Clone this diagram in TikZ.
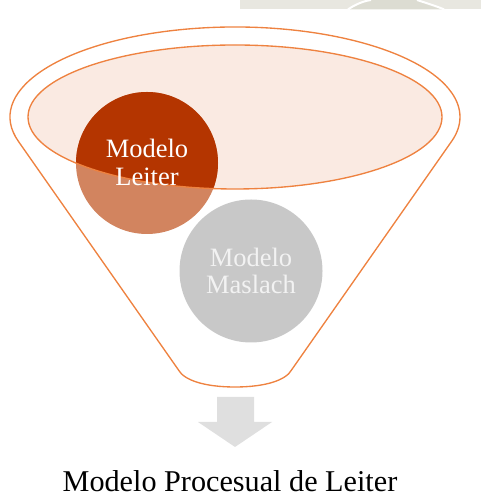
\documentclass[tikz,border=0pt]{standalone}
\usepackage{fontspec}
\setmainfont{Liberation Serif}
\definecolor{funnelline}{HTML}{EE8240}
\definecolor{ellfill}{HTML}{FAEAE2}
\definecolor{leiterdark}{HTML}{B43500}
\definecolor{leiterlight}{HTML}{D2845F}
\definecolor{maslach}{HTML}{C8C8C8}
\definecolor{arrowgrey}{HTML}{DFDFDF}
\definecolor{stripgrey}{HTML}{E8E7E0}
\definecolor{stripdark}{HTML}{DCDCD2}
\tikzset{
  funnelstroke/.style={draw=funnelline, line width=1.35pt},
  circletext/.style={text=white, align=center, font=\fontsize{26.5}{27.8}\selectfont, inner sep=0pt},
  captiontext/.style={text=black, font=\fontsize{30.2}{32}\selectfont, inner sep=0pt, anchor=base},
}
\begin{document}
\begin{tikzpicture}[x=1pt,y=1pt]
\useasboundingbox (0,0) rectangle (481,494);
% faint strip at the top
\fill[stripgrey] (240,484.6) rectangle (481,494);
\fill[stripdark] (350,484.6) .. controls (358,490) and (365,493) .. (372,494) -- (416,494) .. controls (425,491) and (435,488) .. (443,484.6) -- cycle;
\draw[white, line width=2pt] (348,484.6) .. controls (356,490) and (364,493) .. (371,494);
\draw[white, line width=2pt] (417,494) .. controls (426,491) and (436,488) .. (444,484.6);
% outer funnel outline
\draw[funnelstroke, line join=round]
  (18.3,352.8) arc[start angle=195.6, end angle=-15.6, x radius=225pt, y radius=90pt]
  -- (291.5,124) .. controls (286,114) and (266,107) .. (235,107)
  .. controls (204,107) and (184,114) .. (178.5,124) -- cycle;
% inner ellipse fill
\fill[ellfill] (235,377) ellipse[x radius=207pt, y radius=72pt];
% Leiter circle, lighter outside the ellipse
\coordinate (lc) at (147,331);
\fill[leiterlight] (lc) circle[radius=71pt];
\begin{scope}
  \clip (235,377) ellipse[x radius=207pt, y radius=72pt];
  \fill[leiterdark] (lc) circle[radius=71pt];
\end{scope}
% inner ellipse outline
\draw[funnelstroke] (235,377) ellipse[x radius=207pt, y radius=72pt];
% Maslach circle
\coordinate (mc) at (251,223);
\fill[maslach] (mc) circle[radius=71.5pt];
% texts in circles
\node[circletext] (leiter) at (147,331.5) {Modelo\\Leiter};
\node[circletext, text=white!95!black] (maslachtxt) at (251,223) {Modelo\\Maslach};
% down arrow
\fill[arrowgrey] (217,97) -- (254,97) -- (254,72) -- (272,72) -- (235,47) -- (198,72) -- (217,72) -- cycle;
% caption
\node[captiontext] (caption) at (230,2.6) {Modelo Procesual de Leiter};
\end{tikzpicture}
\end{document}
